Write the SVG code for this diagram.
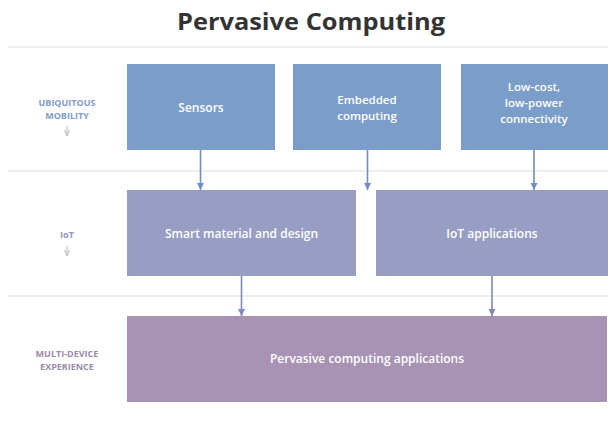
<svg xmlns="http://www.w3.org/2000/svg" width="608" height="423" viewBox="0 0 608 423">
  <defs>
    <marker id="headBlue" viewBox="0 0 10 10" refX="10" refY="5" markerWidth="7" markerHeight="7" markerUnits="userSpaceOnUse" orient="auto">
      <path d="M0,0 L10,5 L0,10 Z" fill="#6f8fc4"/>
    </marker>
    <marker id="headLav" viewBox="0 0 10 10" refX="10" refY="5" markerWidth="7" markerHeight="7" markerUnits="userSpaceOnUse" orient="auto">
      <path d="M0,0 L10,5 L0,10 Z" fill="#8088bb"/>
    </marker>
    <marker id="headGray" viewBox="0 0 10 10" refX="10" refY="5" markerWidth="6" markerHeight="6" markerUnits="userSpaceOnUse" orient="auto">
      <path d="M0,1 L10,5 L0,9" fill="none" stroke="#c4c4c4" stroke-width="2"/>
    </marker>
  </defs>
  <style>
    .title { font-family: "Open Sans", "DejaVu Sans", sans-serif; font-weight: 700; font-size: 24px; fill: #333333; }
    .rule { stroke: #eeeeee; stroke-width: 2; }
    .box-text { font-family: "Open Sans", "DejaVu Sans", sans-serif; font-weight: 600; font-size: 12px; fill: #ffffff; text-anchor: middle; }
    .box-text.multi { font-size: 11.5px; }
    .side { font-family: "Open Sans", "DejaVu Sans", sans-serif; font-weight: 700; font-size: 9px; text-anchor: middle; }
    .row1 { fill: #7b9dca; }
    .row2 { fill: #979dc3; }
    .row3 { fill: #a893b5; }
    .link-blue { stroke: #6f8fc4; stroke-width: 1.6; fill: none; }
    .link-lav { stroke: #8088bb; stroke-width: 1.6; fill: none; }
    .hint { stroke: #c4c4c4; stroke-width: 1.2; fill: none; }
  </style>

  <rect width="608" height="423" fill="#ffffff"/>

  <!-- heading -->
  <text class="title" x="311" y="30" text-anchor="middle" textLength="268" lengthAdjust="spacingAndGlyphs">Pervasive Computing</text>

  <!-- row separators -->
  <g id="separators">
    <line class="rule" x1="8" y1="47" x2="608" y2="47"/>
    <line class="rule" x1="8" y1="171" x2="608" y2="171"/>
    <line class="rule" x1="8" y1="296" x2="608" y2="296"/>
  </g>

  <!-- row labels -->
  <g id="label-mobility">
    <text class="side" x="67" y="106" fill="#7e9ccb">UBIQUITOUS</text>
    <text class="side" x="67" y="119" fill="#7e9ccb">MOBILITY</text>
    <line class="hint" x1="67" y1="126" x2="67" y2="136" marker-end="url(#headGray)"/>
  </g>
  <g id="label-iot">
    <text class="side" x="67" y="238" fill="#8e94bf">IoT</text>
    <line class="hint" x1="67" y1="246" x2="67" y2="256" marker-end="url(#headGray)"/>
  </g>
  <g id="label-multidevice">
    <text class="side" x="67" y="357" fill="#9a8aab">MULTI-DEVICE</text>
    <text class="side" x="67" y="370" fill="#9a8aab">EXPERIENCE</text>
  </g>

  <!-- connectors -->
  <g id="connectors">
    <line class="link-blue" x1="200.5" y1="150" x2="200.5" y2="190" marker-end="url(#headBlue)"/>
    <line class="link-blue" x1="367.5" y1="150" x2="367.5" y2="190" marker-end="url(#headBlue)"/>
    <line class="link-blue" x1="534" y1="150" x2="534" y2="190" marker-end="url(#headBlue)"/>
    <line class="link-lav" x1="241.5" y1="276" x2="241.5" y2="316" marker-end="url(#headLav)"/>
    <line class="link-lav" x1="492" y1="276" x2="492" y2="316" marker-end="url(#headLav)"/>
  </g>

  <!-- top row -->
  <g id="sensors">
    <rect class="row1" x="127" y="64" width="148" height="86"/>
    <text class="box-text" x="201" y="112">Sensors</text>
  </g>
  <g id="embedded-computing">
    <rect class="row1" x="293" y="64" width="148" height="86"/>
    <text class="box-text multi" x="367" y="104">Embedded</text>
    <text class="box-text multi" x="367" y="120">computing</text>
  </g>
  <g id="connectivity">
    <rect class="row1" x="461" y="64" width="147" height="86"/>
    <text class="box-text multi" x="534" y="91">Low-cost,</text>
    <text class="box-text multi" x="534" y="107">low-power</text>
    <text class="box-text multi" x="534" y="123">connectivity</text>
  </g>

  <!-- middle row -->
  <g id="smart-material">
    <rect class="row2" x="127" y="190" width="229" height="86"/>
    <text class="box-text" x="241.5" y="237.5">Smart material and design</text>
  </g>
  <g id="iot-applications">
    <rect class="row2" x="376" y="190" width="232" height="86"/>
    <text class="box-text" x="492" y="237.5">IoT applications</text>
  </g>

  <!-- bottom row -->
  <g id="pervasive-applications">
    <rect class="row3" x="127" y="316" width="480" height="86"/>
    <text class="box-text" x="367" y="363">Pervasive computing applications</text>
  </g>
</svg>
